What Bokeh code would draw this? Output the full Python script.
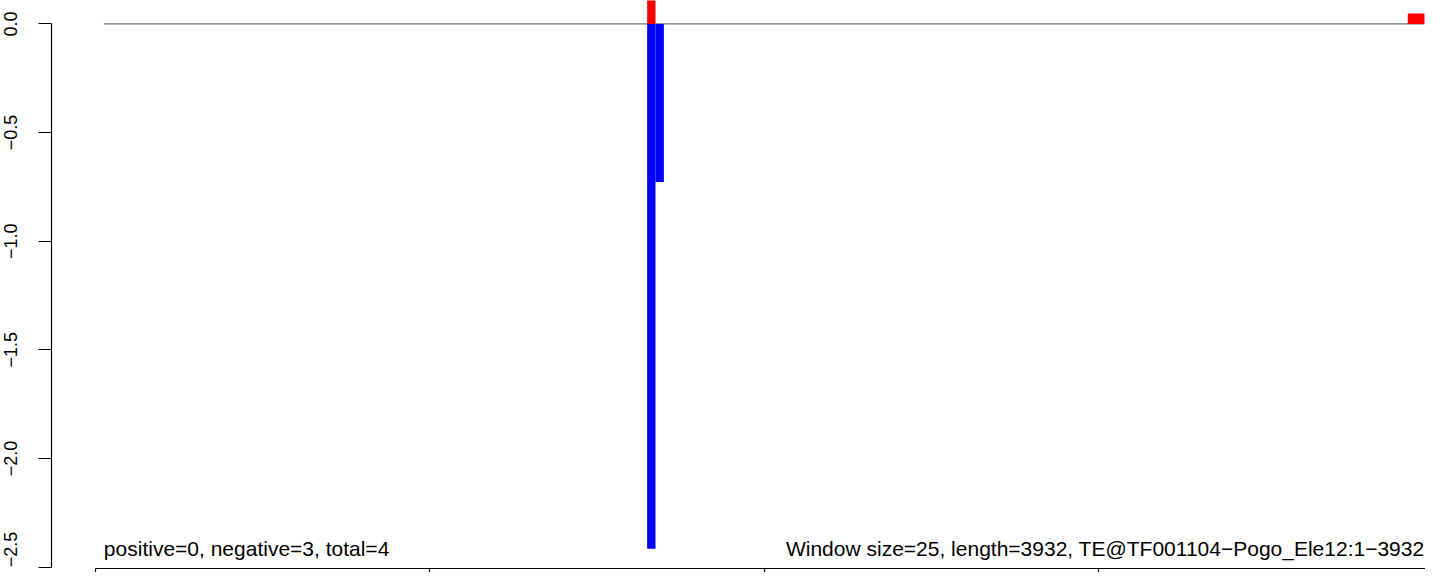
import math
from bokeh.plotting import figure
from bokeh.models import Range1d, FixedTicker, ColumnDataSource
from bokeh.core.properties import value
from bokeh.embed import file_html
from bokeh.resources import INLINE

# ---- data ----
window_size = 25
seq_length = 3932
te_name = "TE@TF001104\u2212Pogo_Ele12"
n_positive = 0
n_negative = 3
n_total = 4

plus_start = [1650, 3925]
plus_end = [1675, 3975]
plus_value = [0.5, 0.048]

minus_start = [1650, 1675]
minus_end = [1675, 1700]
minus_value = [-2.415, -0.728]

baseline_x = [25, 3975]
baseline_y = [0.0, 0.0]

y_ticks = [0.0, -0.5, -1.0, -1.5, -2.0, -2.5]
y_tick_labels = ["0.0", "\u22120.5", "\u22121.0", "\u22121.5", "\u22122.0", "\u22122.5"]
x_ticks = [0, 1000, 2000, 3000, 4000]

FONT = "Liberation Sans"

# layout constants (pixels)
W, H = 1425, 572
FB = 568                 # frame bottom (x axis line)
AXIS_PX = 51             # y axis line
LABEL_PX = 9.5           # centre of rotated y tick labels
x0_px, x_scale = 95.0, (1424.0 - 95.0) / 3975.0
y0_px, y_scale = 23.4, 217.3


def px_to_x(px):
    return (px - x0_px) / x_scale


x_start, x_end = px_to_x(0), px_to_x(W)
y_end = y0_px / y_scale
y_start = -(FB - y0_px) / y_scale

p = figure(width=W, height=H, output_backend="svg", toolbar_location=None,
           x_range=Range1d(x_start, x_end), y_range=Range1d(y_start, y_end),
           min_border_left=0, min_border_right=0, min_border_top=0,
           min_border_bottom=H - FB, title=None)
p.outline_line_color = None
p.xgrid.visible = False
p.ygrid.visible = False
p.background_fill_color = "white"
p.border_fill_color = "white"

# x axis (labels cut off in the reference)
xa = p.xaxis[0]
xa.ticker = FixedTicker(ticks=x_ticks)
xa.bounds = (x_ticks[0], x_ticks[-1])
xa.major_label_overrides = {t: "" for t in x_ticks}
xa.major_label_text_font_size = "0px"
xa.major_label_standoff = 0
xa.major_tick_out = 4
xa.major_tick_in = 0
xa.minor_tick_out = 0
xa.minor_tick_in = 0
xa.axis_line_color = "black"
xa.major_tick_line_color = "black"
xa.axis_line_width = 1.2
xa.major_tick_line_width = 1.2

# y axis, drawn at a fixed location inside the frame
ya = p.yaxis[0]
ya.fixed_location = px_to_x(AXIS_PX)
ya.ticker = FixedTicker(ticks=y_ticks)
ya.bounds = (y_ticks[-1], y_ticks[0])
ya.major_label_overrides = {t: "" for t in y_ticks}
ya.major_label_text_font_size = "0px"
ya.major_label_standoff = 0
ya.major_tick_out = 13
ya.major_tick_in = 0
ya.minor_tick_out = 0
ya.minor_tick_in = 0
ya.axis_line_color = "black"
ya.major_tick_line_color = "black"
ya.axis_line_width = 1.2
ya.major_tick_line_width = 1.2

# rotated y tick labels (last one anchored at its tick so it stays on the canvas)
lab_x = px_to_x(LABEL_PX)
p.text(x=[lab_x] * (len(y_ticks) - 1), y=y_ticks[:-1], text=y_tick_labels[:-1],
       angle=math.pi / 2, text_align="center", text_baseline="middle",
       text_font=value(FONT), text_font_size="18px", text_color="black")
p.text(x=[lab_x], y=y_ticks[-1:], text=y_tick_labels[-1:],
       angle=math.pi / 2, text_align="left", text_baseline="middle",
       text_font=value(FONT), text_font_size="18px", text_color="black")

# zero line
p.line(x=baseline_x, y=baseline_y, line_color="#555555", line_width=1)

# bars
plus_src = ColumnDataSource(dict(left=plus_start, right=plus_end,
                                 bottom=[0.0] * len(plus_value), top=plus_value))
minus_src = ColumnDataSource(dict(left=minus_start, right=minus_end,
                                  bottom=minus_value, top=[0.0] * len(minus_value)))
p.quad(left="left", right="right", bottom="bottom", top="top", source=plus_src,
       fill_color="#FF0000", line_color=None)
p.quad(left="left", right="right", bottom="bottom", top="top", source=minus_src,
       fill_color="#0000FF", line_color=None)

# annotations
y_text = min(minus_value)
left_text = f"positive={n_positive}, negative={n_negative}, total={n_total}"
right_text = f"Window size={window_size}, length={seq_length}, {te_name}:1\u2212{seq_length}"
p.text(x=[window_size], y=[y_text], text=[left_text], text_align="left",
       text_baseline="alphabetic", text_font=value(FONT), text_font_size="21px",
       text_color="black")
p.text(x=[baseline_x[-1]], y=[y_text], text=[right_text], text_align="right",
       text_baseline="alphabetic", text_font=value(FONT), text_font_size="21px",
       text_color="black")

open("out.html", "w").write(file_html(p, INLINE))
